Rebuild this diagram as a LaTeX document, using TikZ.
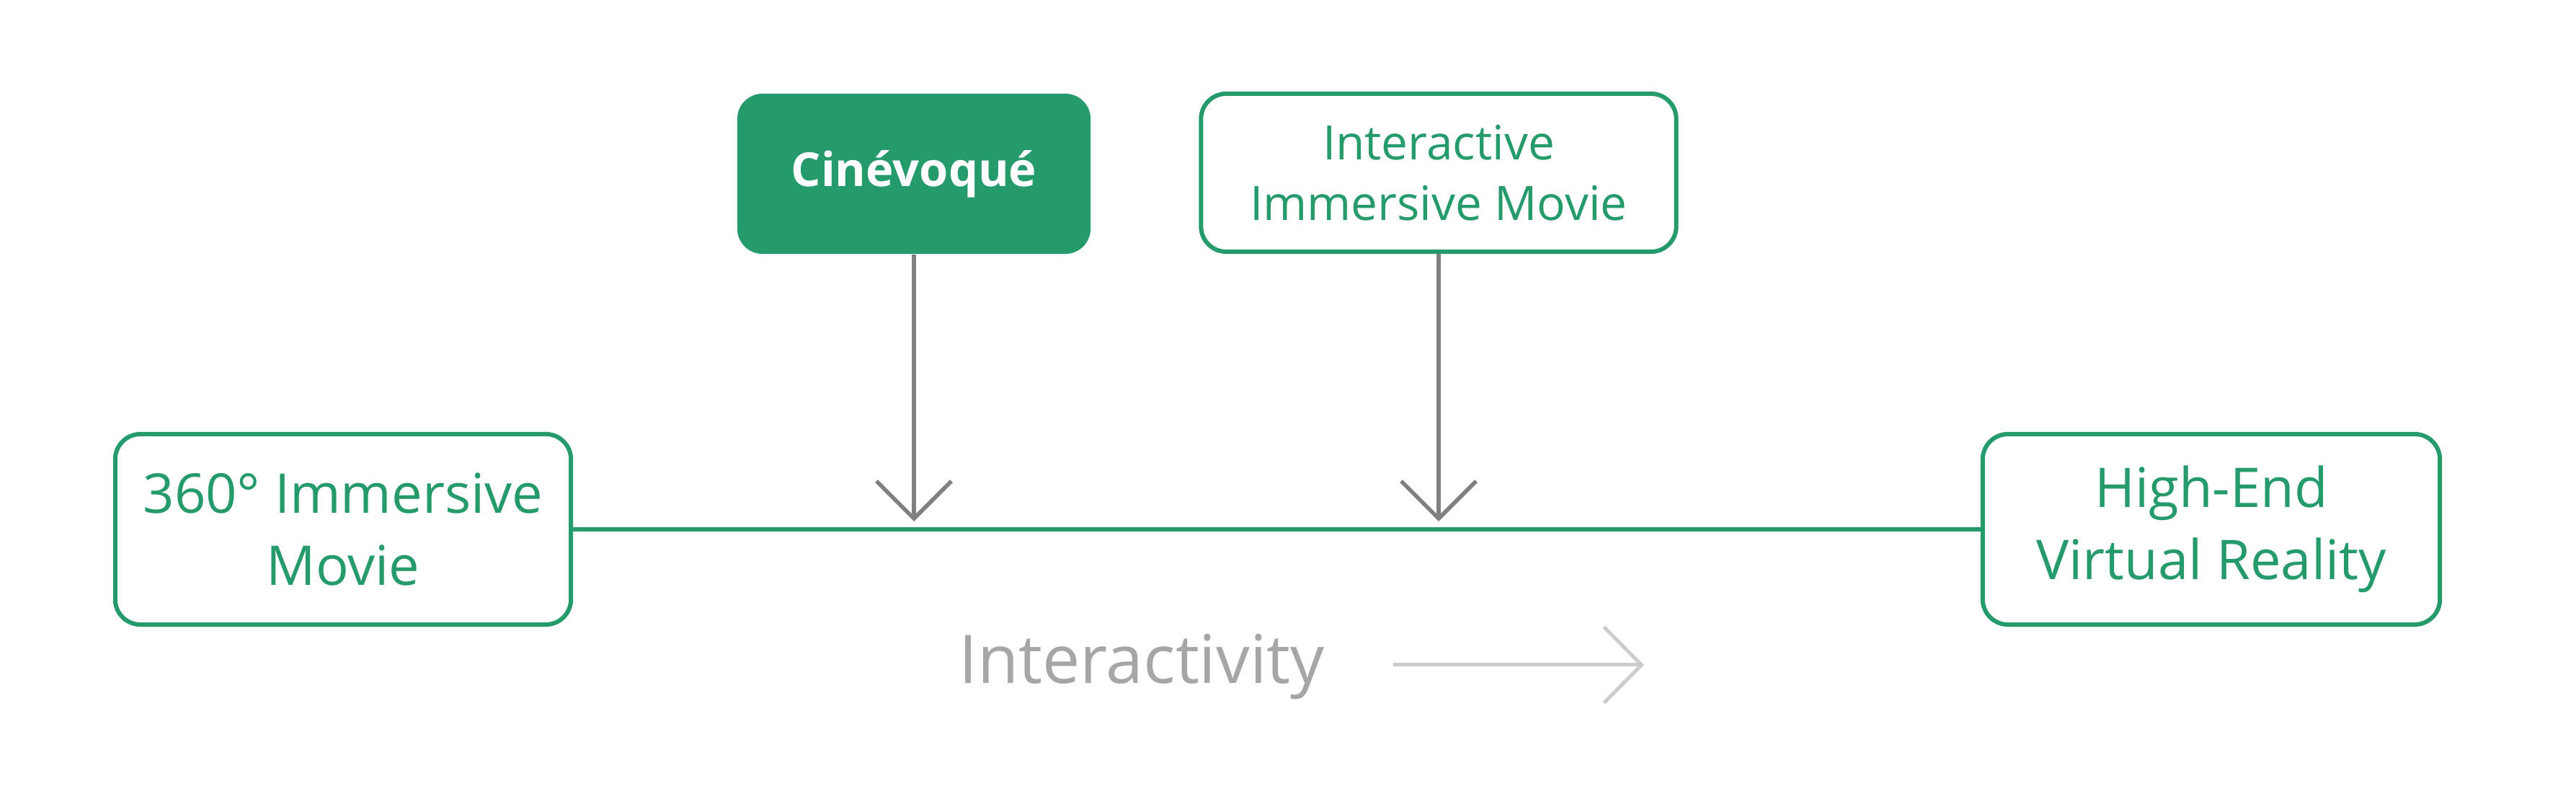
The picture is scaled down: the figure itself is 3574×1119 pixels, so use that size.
\documentclass[tikz,border=0pt]{standalone}
\usepackage{fontspec}
\setmainfont{Open Sans}
\usetikzlibrary{arrows.meta}
\definecolor{grn}{RGB}{37,154,107}
\definecolor{darrow}{RGB}{128,128,128}
\definecolor{ltxt}{RGB}{166,166,166}
\definecolor{larrow}{RGB}{204,204,204}
\tikzset{
  outbox/.style={draw=grn, line width=0.06cm, rounded corners=0.35cm, fill=white, text=grn, align=center, inner sep=0pt},
  solidbox/.style={fill=grn, rounded corners=0.35cm, text=white, align=center, inner sep=0pt},
  bigtxt/.style={font=\fontsize{21.6pt}{28.5pt}\selectfont},
  midtxt/.style={font=\fontsize{18.7pt}{24pt}\selectfont},
  pointer/.style={draw=darrow, line width=0.055cm, -{Straight Barb[length=0.52cm, width=1.04cm, line width=0.055cm]}},
  axisline/.style={draw=grn, line width=0.058cm},
  dirarrow/.style={draw=larrow, line width=0.05cm, -{Straight Barb[length=0.52cm, width=1.05cm, line width=0.05cm]}}
}
\begin{document}
\begin{tikzpicture}[x=0.01cm, y=-0.01cm]
\useasboundingbox (0,0) rectangle (3574,1119);
\node[solidbox, minimum width=4.90cm, minimum height=2.22cm, font=\fontsize{18.5pt}{24pt}\selectfont\bfseries] (cine) at (1268,241) {Cinévoqué};
\node[outbox, midtxt, minimum width=6.59cm, minimum height=2.19cm] (inter) at (1996,239.5) {Interactive\\Immersive Movie};
\node[outbox, bigtxt, minimum width=6.32cm, minimum height=2.64cm] (three) at (476,734) {360° Immersive\\Movie};
\node[outbox, bigtxt, minimum width=6.34cm, minimum height=2.64cm] (high) at (3068,734) {High-End\\Virtual Reality};
\draw[axisline] (three.east) -- (high.west);
\coordinate (tipA) at (1268,723);
\coordinate (tipB) at (1996,723);
\draw[pointer] (cine.south) -- (tipA);
\draw[pointer] (inter.south) -- (tipB);
\node[text=ltxt, font=\fontsize{26.5pt}{32pt}\selectfont, anchor=base, inner sep=0pt] (inty) at (1584,948) {Interactivity};
\coordinate (dirS) at (1933,922);
\coordinate (dirE) at (2281,922);
\draw[dirarrow] (dirS) -- (dirE);
\end{tikzpicture}
\end{document}
